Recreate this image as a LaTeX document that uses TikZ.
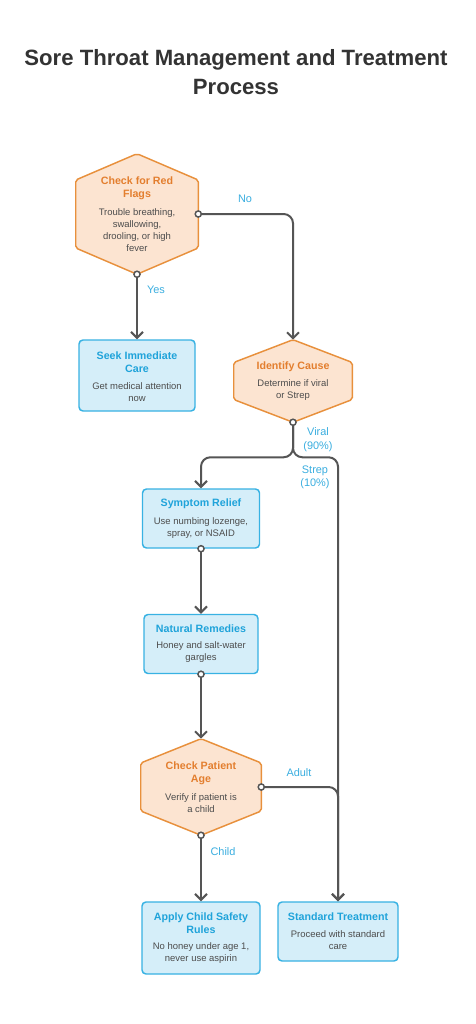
\documentclass[tikz,border=0pt]{standalone}
\usepackage{fontspec}
\setmainfont{Liberation Sans}
\usetikzlibrary{arrows.meta}
\definecolor{hexfill}{HTML}{FCE4D1}
\definecolor{hexline}{HTML}{E8903C}
\definecolor{hextext}{HTML}{E37E2E}
\definecolor{boxfill}{HTML}{D5EEF9}
\definecolor{boxline}{HTML}{38B2E3}
\definecolor{boxtext}{HTML}{1FA3DA}
\definecolor{bodytext}{HTML}{4D4D4D}
\definecolor{linegray}{HTML}{555555}
\definecolor{lblblue}{HTML}{3AAEE0}
\definecolor{titlegray}{HTML}{333333}
\newcommand\hexpath[2]{\draw[hexdraw] (#1.north) -- ([yshift=#2]#1.east) -- ([yshift=-#2]#1.east) -- (#1.south) -- ([yshift=-#2]#1.west) -- ([yshift=#2]#1.west) -- cycle;}
\begin{document}
\begin{tikzpicture}[x=0.75pt,y=-0.75pt,
  hexnode/.style={inner sep=0, draw=none},
  hexdraw/.style={draw=hexline, fill=hexfill, line width=1.1pt, rounded corners=1.5pt},
  bluebox/.style={draw=boxline, fill=boxfill, line width=1.1pt, rounded corners=3pt, inner sep=0},
  htitle/.style={text=hextext, font=\fontsize{8}{9.4}\selectfont\bfseries, align=center, inner sep=0},
  btitle/.style={text=boxtext, font=\fontsize{8}{9.4}\selectfont\bfseries, align=center, inner sep=0},
  body/.style={text=bodytext, font=\fontsize{7.1}{9}\selectfont, align=center, inner sep=0},
  lbl/.style={text=lblblue, font=\fontsize{8.2}{10}\selectfont, align=center, inner sep=0},
  conn/.style={draw=linegray, line width=1.5pt, -{Straight Barb[length=4.5pt,width=9pt,line width=1.5pt]}},
  dot/.style={draw=linegray, fill=white, line width=1.1pt}]
\useasboundingbox[fill=white] (0,0) rectangle (475,1024);

% title
\node[text=titlegray, font=\fontsize{16.6}{21.75}\selectfont\bfseries, align=center, inner sep=0] (title) at (236,72.5) {Sore Throat Management and Treatment\\Process};

% hexagons
\node[hexnode, minimum width=91.5pt, minimum height=90pt] (rf) at (137,214) {};
\hexpath{rf}{25.5pt}
\node[htitle] (rft) at (137,188) {Check for Red\\Flags};
\node[body] (rfb) at (137,230) {Trouble breathing,\\swallowing,\\drooling, or high\\fever};

\node[hexnode, minimum width=88.5pt, minimum height=61.5pt] (ic) at (293,381) {};
\hexpath{ic}{13.9pt}
\node[htitle] (ict) at (293,367) {Identify Cause};
\node[body] (icb) at (293,390.5) {Determine if viral\\or Strep};

\node[hexnode, minimum width=90pt, minimum height=72pt] (ca) at (201,787) {};
\hexpath{ca}{18pt}
\node[htitle] (cat) at (201,773.5) {Check Patient\\Age};
\node[body] (cab) at (201,803) {Verify if patient is\\a child};

% boxes
\node[bluebox, minimum width=87pt, minimum height=53.25pt] (sic) at (137,375.5) {};
\node[btitle] (sict) at (137,362) {Seek Immediate\\Care};
\node[body] (sicb) at (137,392) {Get medical attention\\now};

\node[bluebox, minimum width=87.75pt, minimum height=44.25pt] (sr) at (201,518.5) {};
\node[btitle] (srt) at (201,504) {Symptom Relief};
\node[body] (srb) at (201,528.5) {Use numbing lozenge,\\spray, or NSAID};

\node[bluebox, minimum width=85.5pt, minimum height=44.25pt] (nr) at (201,644) {};
\node[btitle] (nrt) at (201,628.5) {Natural Remedies};
\node[body] (nrb) at (201,652) {Honey and salt-water\\gargles};

\node[bluebox, minimum width=88.5pt, minimum height=54pt] (acs) at (201,938) {};
\node[btitle] (acst) at (201,923) {Apply Child Safety\\Rules};
\node[body] (acsb) at (201,953.5) {No honey under age 1,\\never use aspirin};

\node[bluebox, minimum width=90pt, minimum height=44.25pt] (st) at (338,931.5) {};
\node[btitle] (stt) at (338,917) {Standard Treatment};
\node[body] (stb) at (338,940) {Proceed with standard\\care};

% connectors
\draw[conn] (rf.south) -- (sic.north);
\draw[conn, rounded corners=7pt] (rf.east) -| (ic.north);
\draw[conn, rounded corners=7pt] (ic.south) -- ++(0,35) -| (sr.north);
\draw[conn, rounded corners=7pt] (ic.south) -- ++(0,35) -| (st.north);
\draw[conn] (sr.south) -- (nr.north);
\draw[conn] (nr.south) -- (ca.north);
\draw[conn, rounded corners=7pt] (ca.east) -| (st.north);
\draw[conn] (ca.south) -- (acs.north);

\foreach \p in {rf.south, rf.east, ic.south, sr.south, nr.south, ca.east, ca.south}
  \draw[dot] (\p) circle (2.3pt);

% labels
\node[lbl] (lyes) at (156,290) {Yes};
\node[lbl] (lno) at (245,199) {No};
\node[lbl] (lviral) at (318,439.5) {Viral\\(90\%)};
\node[lbl] (lstrep) at (315,477.5) {Strep\\(10\%)};
\node[lbl] (ladult) at (299,773) {Adult};
\node[lbl] (lchild) at (223,852) {Child};
\end{tikzpicture}
\end{document}
